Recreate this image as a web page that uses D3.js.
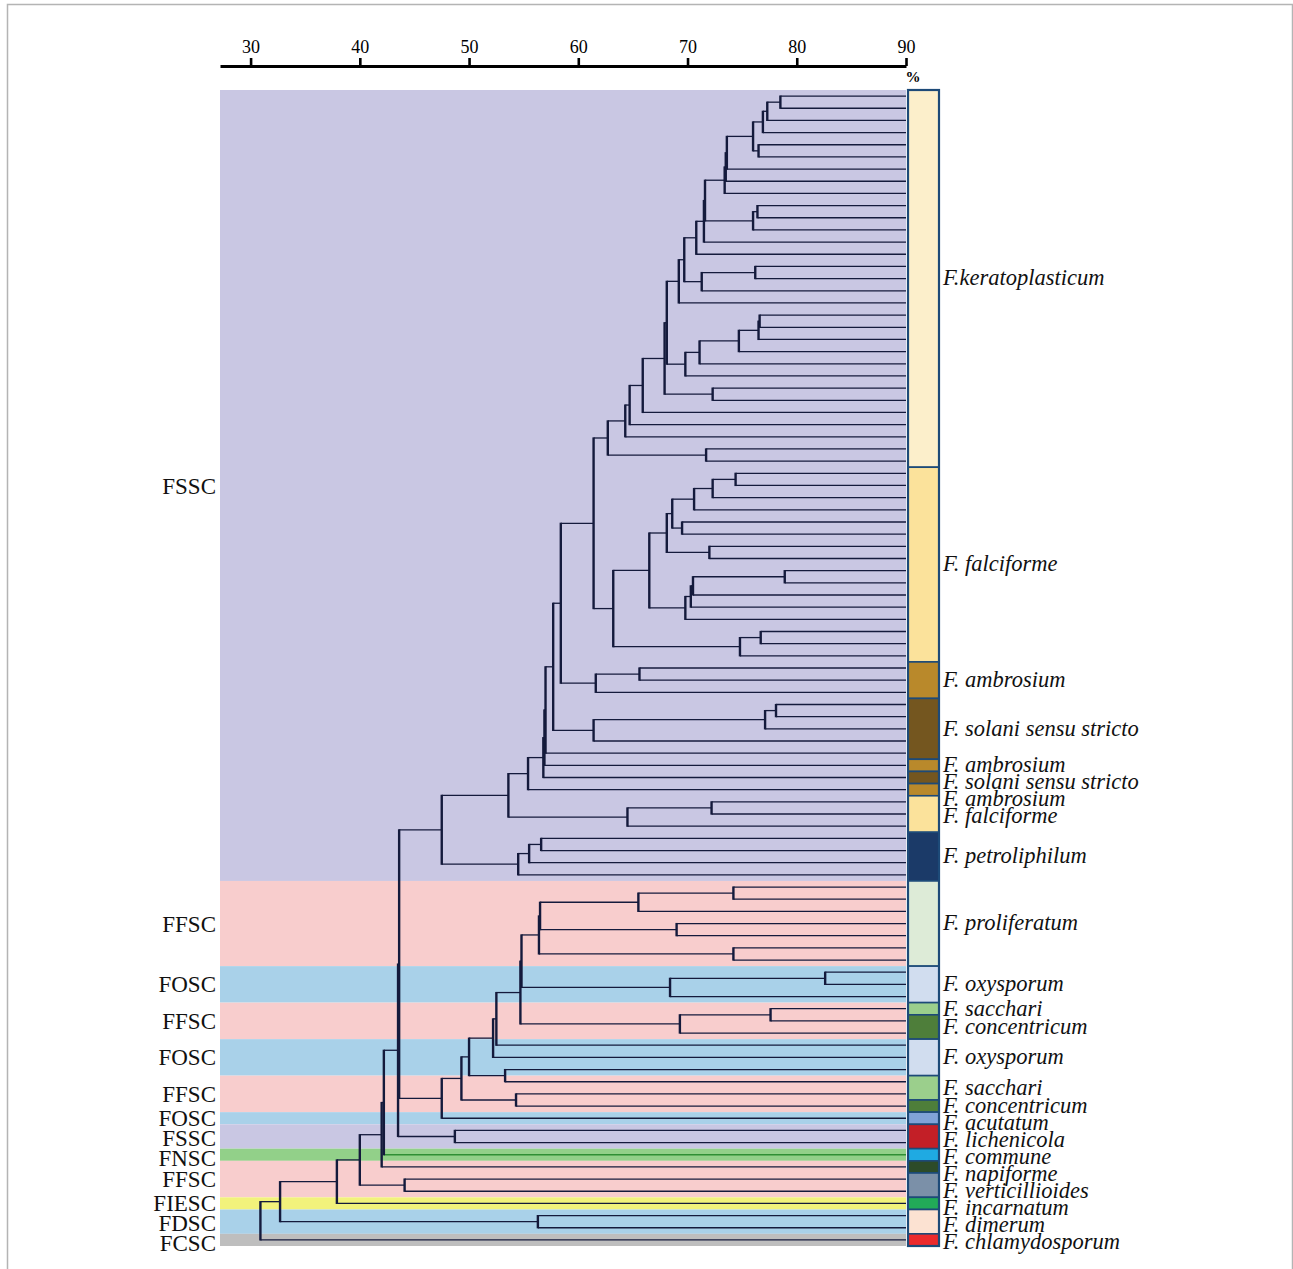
<!DOCTYPE html>
<html><head><meta charset="utf-8">
<script src="https://cdn.jsdelivr.net/npm/d3@7"></script>
<style>body{margin:0;background:#fff}</style>
</head><body>
<svg id="c" width="1293" height="1269"></svg>
<script>
// ---------- DATA ----------
const axisTicks = [30, 40, 50, 60, 70, 80, 90];
const axisMin = 27.2;          // similarity (%) at the left end of the axis line
const leafSimilarity = 90;     // leaves sit at the right end of the scale
const leafCount = 95;

// UPGMA merges: [node id, child A, child B, similarity %]  (numbers = leaf index, strings = earlier nodes)
const merges = [
 ["k1",0,1,78.5],["k2","k1",2,77.3],["k3","k2",3,76.9],["k4",4,5,76.5],["k5","k3","k4",76.0],
 ["k6","k5",6,73.6],["k7","k6",7,73.5],["k8","k7",8,73.4],["k9",9,10,76.4],["k10","k9",11,76.0],
 ["k11","k8","k10",71.6],["k12","k11",12,71.5],["k13","k12",13,70.8],["k14",14,15,76.2],["k15","k14",16,71.3],
 ["k16","k13","k15",69.7],["k17","k16",17,69.2],["k18",18,19,76.6],["k19","k18",20,76.5],["k20","k19",21,74.7],
 ["k21","k20",22,71.1],["k22","k21",23,69.8],["k23","k17","k22",68.1],["k24",24,25,72.3],["k25","k23","k24",67.9],
 ["k26","k25",26,65.9],["k27","k26",27,64.7],["k28","k27",28,64.3],["k29",29,30,71.7],["k30","k28","k29",62.7],
 ["f1",31,32,74.4],["f2","f1",33,72.3],["f3","f2",34,70.6],["f4",35,36,69.5],["f5","f3","f4",68.6],
 ["f6",37,38,72.0],["f7","f5","f6",68.1],["f8",39,40,78.9],["f9","f8",41,70.5],["f10","f9",42,70.3],
 ["f11","f10",43,69.8],["f12","f7","f11",66.5],["f13",44,45,76.7],["f14","f13",46,74.8],["f15","f12","f14",63.2],
 ["s1","k30","f15",61.4],
 ["a1",47,48,65.6],["a2","a1",49,61.6],["s2","s1","a2",58.4],
 ["b1",50,51,78.1],["b2","b1",52,77.1],["b3","b2",53,61.4],["s3","s2","b3",57.7],
 ["s4","s3",54,57.0],["s5","s4",55,56.9],["s6","s5",56,56.8],["s7","s6",57,55.4],
 ["c1",58,59,72.2],["c2","c1",60,64.5],["s8","s7","c2",53.6],
 ["p1",61,62,56.6],["p2","p1",63,55.5],["p3","p2",64,54.5],["s9","s8","p3",47.5],
 ["r1",65,66,74.2],["r2","r1",67,65.5],["r3",68,69,69.0],["r4","r2","r3",56.5],["r5",70,71,74.2],["r6","r4","r5",56.4],
 ["o1",72,73,82.6],["o2","o1",74,68.4],["r7","r6","o2",54.8],
 ["q1",75,76,77.6],["q2","q1",77,69.3],["r8","r7","q2",54.7],
 ["r9","r8",78,52.5],["r10","r9",79,52.2],["o3",80,81,53.3],["r11","r10","o3",50.0],
 ["q3",82,83,54.3],["r12","r11","q3",49.3],["r13","r12",84,47.5],
 ["l1",85,86,48.7],["t1","s9","r13",43.6],["t2","t1","l1",43.5],
 ["t3","t2",87,42.2],["t4","t3",88,42.0],["v1",89,90,44.1],["t5","t4","v1",40.0],
 ["t6","t5",91,37.9],["d1",92,93,56.3],["t7","t6","d1",32.7],["t8","t7",94,30.9]
];

// species colour bar (runs of consecutive leaves)
const speciesNames = ["F.keratoplasticum","F. falciforme","F. ambrosium","F. solani sensu stricto","F. ambrosium",
 "F. solani sensu stricto","F. ambrosium","F. falciforme","F. petroliphilum","F. proliferatum","F. oxysporum",
 "F. sacchari","F. concentricum","F. oxysporum","F. sacchari","F. concentricum","F. acutatum","F. lichenicola",
 "F. commune","F. napiforme","F. verticillioides","F. incarnatum","F. dimerum","F. chlamydosporum"];
const speciesCounts = [31,16,3,5,1,1,1,3,4,7,3,1,2,3,2,1,1,2,1,1,2,1,2,1];
const speciesPalette = ["#fcefcb","#fbe29b","#b9892b","#74561f","#b9892b","#74561f","#b9892b","#fbe29b","#1b3a68",
 "#ddebd7","#d1ddef","#9bcf8c","#4e7e3a","#d1ddef","#9bcf8c","#4e7e3a","#80a3d8","#c31f27","#1faae2","#2d4b28",
 "#7b90a8","#22aa58","#fce2d2","#ec2a2c"];

// species-complex background bands
const complexNames = ["FSSC","FFSC","FOSC","FFSC","FOSC","FFSC","FOSC","FSSC","FNSC","FFSC","FIESC","FDSC","FCSC"];
const complexCounts = [65,7,3,3,3,3,1,2,1,3,1,2,1];
const complexPalette = {FSSC:"#c9c7e3",FFSC:"#f8cdcd",FOSC:"#a9d1e9",FNSC:"#92d089",FIESC:"#f2f27b",FDSC:"#a9d1e9",FCSC:"#bebebe"};

// ---------- LAYOUT ----------
const serif = "'Liberation Serif', 'Times New Roman', serif";
const svg = d3.select("#c");
svg.append("rect").attr("x",7.5).attr("y",4.5).attr("width",1285).attr("height",1280)
  .attr("fill","none").attr("stroke","#b4b4b4").attr("stroke-width",1.5);

const x = d3.scaleLinear().domain([axisMin, leafSimilarity]).range([220, 906]);
const y = d3.scaleBand().domain(d3.range(leafCount)).range([90, 1246]).padding(0);
const bw = y.bandwidth();
const leafY = i => y(i) + bw / 2;

// background bands
let start = 0;
const bandInfo = complexNames.map((n, i) => { const o = {name:n, start, count:complexCounts[i]}; start += complexCounts[i]; return o; });
svg.append("g").selectAll("rect").data(bandInfo).join("rect")
  .attr("x", x(axisMin)).attr("width", x(leafSimilarity) - x(axisMin))
  .attr("y", d => y(d.start)).attr("height", d => d.count * bw)
  .attr("fill", d => complexPalette[d.name]);

// leaf -> complex
const leafComplex = [];
bandInfo.forEach(b => { for (let i = 0; i < b.count; i++) leafComplex[b.start + i] = b.name; });

// build tree
const nodes = {};
for (let i = 0; i < leafCount; i++) nodes[i] = {leaf:true, idx:i, sim:leafSimilarity, y:leafY(i)};
const segs = [];
merges.forEach(([id, a, b, s]) => {
  const A = nodes[a], B = nodes[b];
  nodes[id] = {leaf:false, sim:s, y:(A.y + B.y) / 2};
  segs.push({x1:x(s), x2:x(s), y1:A.y, y2:B.y, v:true});
  [A, B].forEach(C => {
    const col = (C.leaf && leafComplex[C.idx] === "FNSC") ? "#2f8f35" : "#141a3c";
    segs.push({x1:x(s), x2:x(C.sim), y1:C.y, y2:C.y, v:false, col});
  });
});
const tree = svg.append("g");
tree.selectAll("line.h").data(segs.filter(d => !d.v)).join("line").attr("class","h")
  .attr("x1", d => d.x1).attr("x2", d => d.x2).attr("y1", d => d.y1).attr("y2", d => d.y2)
  .attr("stroke", d => d.col).attr("stroke-width", 1.3);
tree.selectAll("line.v").data(segs.filter(d => d.v)).join("line").attr("class","v")
  .attr("x1", d => d.x1).attr("x2", d => d.x2).attr("y1", d => d.y1 - 0.6).attr("y2", d => d.y2 + 0.6)
  .attr("stroke", "#141a3c").attr("stroke-width", 2.4);

// axis
const axis = svg.append("g").attr("transform","translate(0,66)")
  .call(d3.axisTop(x).tickValues(axisTicks).tickSize(8).tickSizeOuter(0).tickPadding(5));
axis.attr("font-family", null).attr("font-size", null);
axis.select(".domain").attr("stroke","#000").attr("stroke-width",3.2);
axis.selectAll(".tick line").attr("stroke","#000").attr("stroke-width",2.6);
axis.selectAll(".tick text").style("font-family", serif).style("font-size","18px").attr("fill","#000");
svg.append("text").attr("x", x(leafSimilarity) + 7).attr("y", 82).attr("text-anchor","middle")
  .style("font-family", serif).style("font-size","15px").attr("font-weight","bold").text("%");

// species colour bar
start = 0;
const spec = speciesNames.map((n, i) => { const o = {name:n, start, count:speciesCounts[i], col:speciesPalette[i]}; start += speciesCounts[i]; return o; });
const barX = x(leafSimilarity) + 2, barW = 31;
svg.append("g").selectAll("rect").data(spec).join("rect")
  .attr("x", barX).attr("width", barW).attr("y", d => y(d.start)).attr("height", d => d.count * bw)
  .attr("fill", d => d.col).attr("stroke","#1d4a78").attr("stroke-width",1.6);
svg.append("rect").attr("x", barX).attr("y", y(0)).attr("width", barW).attr("height", leafCount * bw)
  .attr("fill","none").attr("stroke","#1d4a78").attr("stroke-width",2.2);

function spread(centers, gap) { const out = []; centers.forEach((c, i) => out.push(i ? Math.max(c, out[i-1] + gap) : c)); return out; }

const specY = spread(spec.map(d => y(d.start) + d.count * bw / 2 - 1), 17);
svg.append("g").selectAll("text").data(spec).join("text")
  .attr("x", barX + barW + 4).attr("y", (d, i) => specY[i]).attr("dy","0.35em")
  .style("font-family", serif).style("font-style","italic").style("font-size","22.5px")
  .attr("fill","#111").text(d => d.name);

const compY = spread(bandInfo.map(d => y(d.start) + d.count * bw / 2), 20);
svg.append("g").selectAll("text").data(bandInfo).join("text")
  .attr("x", 216).attr("y", (d, i) => compY[i]).attr("dy","0.35em").attr("text-anchor","end")
  .style("font-family", serif).style("font-size","23px").attr("fill","#111").text(d => d.name);
</script>
</body></html>
